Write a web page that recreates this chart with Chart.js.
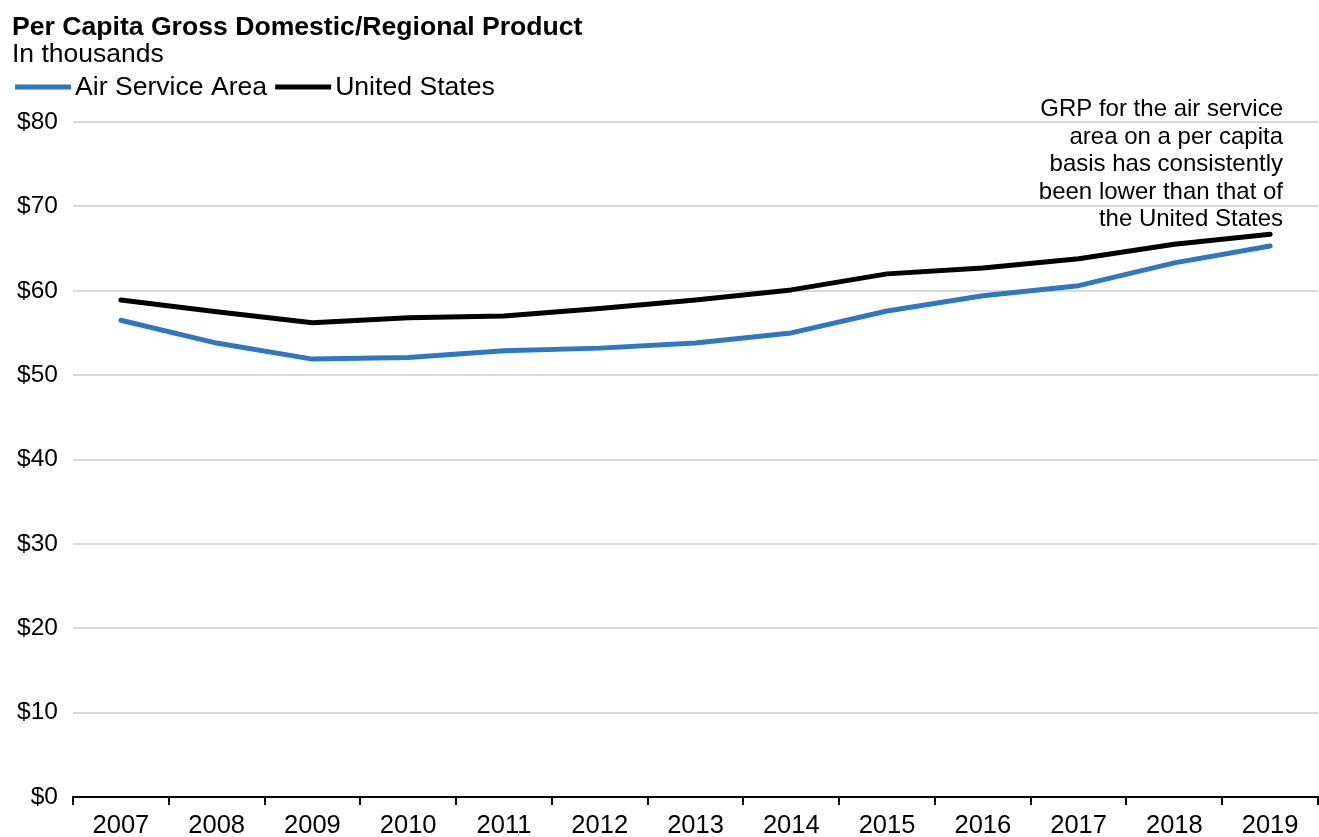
<!DOCTYPE html>
<html>
<head>
<meta charset="utf-8">
<title>Per Capita Gross Domestic/Regional Product</title>
<script src="https://cdn.jsdelivr.net/npm/chart.js@4.4.0/dist/chart.umd.min.js"></script>
<style>
  html, body { margin: 0; padding: 0; background: #ffffff; }
  #wrap { width: 1319px; height: 837px; position: relative; }
</style>
</head>
<body>
<div id="wrap"><canvas id="chart" width="1319" height="837"></canvas></div>
<script>
// Years on the category axis
const years = ['2007', '2008', '2009', '2010', '2011', '2012', '2013',
               '2014', '2015', '2016', '2017', '2018', '2019'];

// Per capita product, thousands of dollars
const airServiceArea = [56.5, 53.8, 51.9, 52.1, 52.9, 53.2, 53.8, 55.0, 57.6, 59.4, 60.6, 63.3, 65.3];
const unitedStates   = [58.9, 57.5, 56.2, 56.8, 57.0, 57.9, 58.9, 60.1, 62.0, 62.7, 63.8, 65.5, 66.7];

const seriesNames = ['Air Service Area', 'United States'];
const seriesColors = ['#2e78c2', '#000000'];

const titleText = 'Per Capita Gross Domestic/Regional Product';
const subtitleText = 'In thousands';
const noteLines = [
  'GRP for the air service',
  'area on a per capita',
  'basis has consistently',
  'been lower than that of',
  'the United States'
];

const FONT = "'Liberation Sans', Arial, sans-serif";

// Heading, legend and side note drawn directly on the canvas
const headerPlugin = {
  id: 'headerPlugin',
  afterDraw(chart) {
    const ctx = chart.ctx;
    ctx.save();
    ctx.fillStyle = '#000000';
    ctx.textAlign = 'left';
    ctx.textBaseline = 'alphabetic';
    ctx.font = 'bold 26.6px ' + FONT;
    ctx.fillText(titleText, 12, 35);
    ctx.font = '26.5px ' + FONT;
    ctx.fillText(subtitleText, 12, 62);

    // legend: line swatch followed by the series name
    ctx.font = '26.6px ' + FONT;
    ctx.textBaseline = 'middle';
    let x = 15;
    const y = 87;
    chart.data.datasets.forEach((ds) => {
      ctx.strokeStyle = ds.borderColor;
      ctx.lineWidth = 5;
      ctx.lineCap = 'butt';
      ctx.beginPath();
      ctx.moveTo(x, y);
      ctx.lineTo(x + 56, y);
      ctx.stroke();
      x += 60;
      ctx.fillStyle = '#000000';
      ctx.fillText(ds.label, x, y + 1);
      x += ctx.measureText(ds.label).width + 8;
    });

    // note in the upper right, right-aligned
    ctx.font = '24px ' + FONT;
    ctx.textAlign = 'right';
    ctx.textBaseline = 'alphabetic';
    noteLines.forEach((line, i) => {
      ctx.fillText(line, 1283, 116 + i * 27.6);
    });
    ctx.restore();
  }
};

new Chart(document.getElementById('chart'), {
  type: 'line',
  data: {
    labels: years,
    datasets: [
      {
        label: seriesNames[0],
        data: airServiceArea,
        borderColor: seriesColors[0],
        backgroundColor: seriesColors[0],
        borderWidth: 5,
        pointRadius: 0,
        tension: 0,
        borderJoinStyle: 'round',
        borderCapStyle: 'round'
      },
      {
        label: seriesNames[1],
        data: unitedStates,
        borderColor: seriesColors[1],
        backgroundColor: seriesColors[1],
        borderWidth: 5,
        pointRadius: 0,
        tension: 0,
        borderJoinStyle: 'round',
        borderCapStyle: 'round'
      }
    ]
  },
  options: {
    responsive: false,
    devicePixelRatio: 1,
    animation: false,
    layout: { padding: { top: 122, right: 1, bottom: 0, left: 0 } },
    plugins: {
      legend: { display: false },
      title: { display: false },
      tooltip: { enabled: false }
    },
    scales: {
      x: {
        offset: true,
        grid: {
          display: true,
          offset: true,
          drawOnChartArea: false,
          drawTicks: true,
          tickLength: 8,
          color: '#000000',
          lineWidth: 2
        },
        border: { display: true, color: '#000000', width: 2 },
        ticks: {
          color: '#000000',
          font: { family: FONT, size: 25.5 },
          padding: 6,
          maxRotation: 0,
          autoSkip: false
        },
        afterFit(scale) { scale.height = 40; }
      },
      y: {
        min: 0,
        max: 80,
        ticks: {
          stepSize: 10,
          color: '#000000',
          font: { family: FONT, size: 24.5 },
          padding: 15,
          callback: (v) => '$' + v
        },
        grid: {
          color: '#d9d9d9',
          lineWidth: 2,
          drawTicks: false
        },
        border: { display: false },
        afterFit(scale) { scale.width = 73; }
      }
    }
  },
  plugins: [headerPlugin]
});
</script>
</body>
</html>
